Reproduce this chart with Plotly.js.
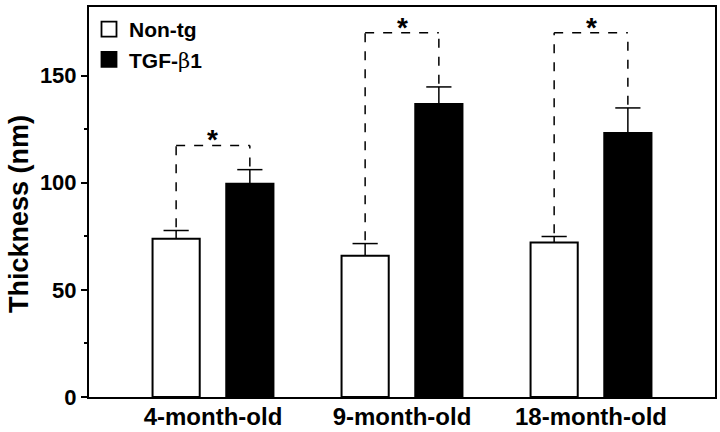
<!DOCTYPE html>
<html>
<head>
<meta charset="utf-8">
<script src="https://cdn.plot.ly/plotly-3.0.1.min.js"></script>
<style>
  html, body { margin: 0; padding: 0; background: #fff; }
  #chart { width: 720px; height: 432px; }
</style>
</head>
<body>
<div id="chart"></div>
<script>
// group means and SEM
const ages = ['4-month-old', '9-month-old', '18-month-old'];
const nonTg = [73.8, 65.9, 72.1];
const nonTgErr = [3.9, 5.7, 2.8];
const tgf = [99.5, 136.7, 123.2];
const tgfErr = [6.6, 8.0, 11.7];
// top of each significance bracket
const bracketTop = [117.4, 170, 170];

const FONT = 'Liberation Sans, Arial, Helvetica, sans-serif';
const BARGAP = 0.22;
const half = (1 - BARGAP) / 4; // offset of each bar centre from the group centre

const idx = ages.map((_, i) => i);
const zeros = ages.map(() => 0);
const TGF_NAME = 'TGF-<span style="font-family:DejaVu Serif;font-weight:normal">β</span>1';

function errBar(errs) {
  return { type: 'data', symmetric: false, array: errs, arrayminus: zeros,
           color: '#000', thickness: 1.5, width: 0 };
}
// caps drawn as markers so nothing shows at the bar top
function caps(vals, errs, dx) {
  return {
    type: 'scatter', mode: 'markers', showlegend: false, hoverinfo: 'skip',
    x: idx.map((i) => i + dx), y: vals.map((v, i) => v + errs[i]),
    marker: { symbol: 'line-ew', size: 18, color: '#000', line: { color: '#000', width: 1.5 } },
  };
}
function legendItem(name, fill) {
  return {
    type: 'scatter', mode: 'markers', name, x: [null], y: [null],
    marker: { symbol: 'square', size: 15, color: fill, line: { color: '#000', width: 1.8 } },
  };
}

const traces = [
  {
    type: 'bar', name: 'Non-tg', x: idx, y: nonTg, showlegend: false,
    marker: { color: '#ffffff', line: { color: '#000', width: 2 } },
    error_y: errBar(nonTgErr),
  },
  {
    type: 'bar', name: TGF_NAME, x: idx, y: tgf, showlegend: false,
    marker: { color: '#000000', line: { color: '#000', width: 2 } },
    error_y: errBar(tgfErr),
  },
  caps(nonTg, nonTgErr, -half),
  caps(tgf, tgfErr, half),
  legendItem('Non-tg', '#ffffff'),
  legendItem(TGF_NAME, '#000000'),
];

const shapes = [];
const annotations = [];
ages.forEach((a, i) => {
  const xl = i - half, xr = i + half;
  const dash = { color: '#000', width: 1.5, dash: 'dash' };
  shapes.push(
    { type: 'line', xref: 'x', yref: 'y', x0: xl, x1: xl, y0: nonTg[i] + nonTgErr[i] + 1.5, y1: bracketTop[i], line: dash },
    { type: 'line', xref: 'x', yref: 'y', x0: xr, x1: xr, y0: tgf[i] + tgfErr[i] + 1.5, y1: bracketTop[i], line: dash },
    { type: 'line', xref: 'x', yref: 'y', x0: xl, x1: xr, y0: bracketTop[i], y1: bracketTop[i], line: dash },
  );
  annotations.push({
    xref: 'x', yref: 'y', x: i, y: bracketTop[i], yanchor: 'bottom', yshift: -12,
    text: '<b>*</b>', showarrow: false, font: { family: FONT, size: 28, color: '#000' },
  });
});
// y axis title, placed a little below the plot centre as in the figure
annotations.push({
  xref: 'paper', yref: 'paper', x: -0.113, y: 0.47, xanchor: 'center', yanchor: 'middle',
  textangle: -90, showarrow: false, text: 'Thickness (nm)',
  font: { family: FONT, size: 27, weight: 'bold', color: '#000' },
});

const layout = {
  width: 720, height: 432,
  paper_bgcolor: '#fff', plot_bgcolor: '#fff',
  margin: { l: 89, r: 5, t: 7, b: 35 },
  font: { family: FONT, size: 22, color: '#000', weight: 'bold' },
  barmode: 'group', bargap: BARGAP, bargroupgap: 0.36,
  showlegend: true,
  legend: {
    x: 0.0, y: 0.995, xanchor: 'left', yanchor: 'top',
    bgcolor: 'rgba(0,0,0,0)', font: { family: FONT, size: 21, weight: 'bold' },
    tracegroupgap: 0, itemwidth: 30,
  },
  xaxis: {
    range: [-0.656, 2.656], tickvals: idx, ticktext: ages,
    showline: true, linecolor: '#000', linewidth: 2, mirror: true,
    ticks: '', showgrid: false, zeroline: false, ticklabelstandoff: -3,
    tickfont: { family: FONT, size: 24, weight: 'bold' },
  },
  yaxis: {
    range: [0, 182], tickvals: [0, 50, 100, 150],
    showline: true, linecolor: '#000', linewidth: 2, mirror: true,
    ticks: 'outside', ticklen: 6, tickwidth: 2, tickcolor: '#000',
    minor: { tickvals: [25, 75, 125], ticks: 'outside', ticklen: 3, tickwidth: 2, tickcolor: '#000' },
    showgrid: false, zeroline: false,
    tickfont: { family: FONT, size: 22, weight: 'bold' },
  },
  shapes, annotations,
};

Plotly.newPlot('chart', traces, layout, { displayModeBar: false, staticPlot: true });
</script>
</body>
</html>
